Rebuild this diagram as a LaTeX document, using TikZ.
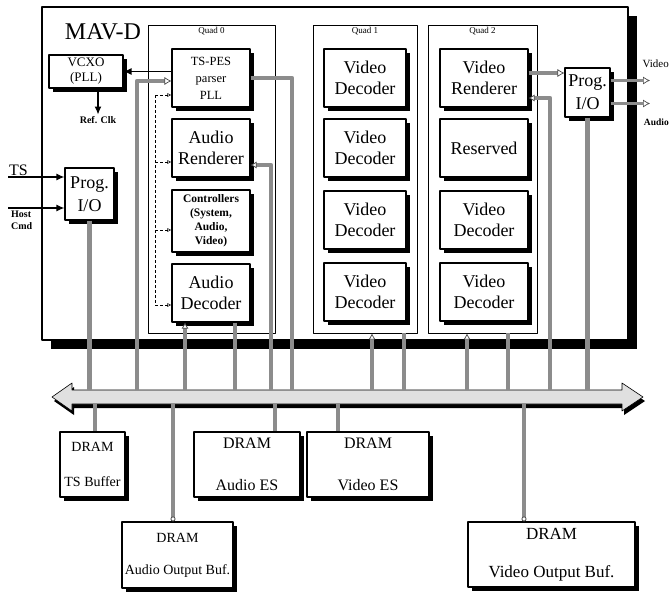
\documentclass[tikz,border=0pt]{standalone}
\usepackage{fontspec}
\setmainfont{Liberation Serif}
\usetikzlibrary{arrows.meta,shadows}
\newcommand{\fsbig}{\fontsize{18}{21}\selectfont}
\newcommand{\fssmall}{\fontsize{10}{12}\selectfont}

\tikzset{
  unit/.style={draw,line width=1.1pt,fill=white,align=center,inner sep=1pt,font=\fsbig,
    drop shadow={fill=black,opacity=1,shadow xshift=4pt,shadow yshift=-4pt}},
  quad/.style={draw,line width=0.9pt},
  busline/.style={draw=black!45,line width=4.5pt},
  ctlline/.style={densely dashed,line width=0.6pt},
  ctltip/.style={-{Latex[open,length=4pt,width=4pt,line width=0.5pt]}},
  feedtip/.style={-{Latex[length=7pt,width=8pt,line width=0.7pt,color=black!70,fill=white]}},
  feedtail/.style={{Latex[length=6pt,width=7pt,line width=0.7pt,color=black!70,fill=white]}-},
  ringtip/.style={-{Circle[length=5pt,line width=0.8pt,color=black!70,fill=white]}},
  inarrow/.style={line width=1.3pt,-{Latex[length=8pt,width=7pt]}}
}

\begin{document}
\begin{tikzpicture}[x=1pt,y=-1pt,line join=round]
  \useasboundingbox (0,0) rectangle (671,592);
  % chip outline and quads
  \node[draw,line width=1.5pt,fill=white,minimum width=586pt,minimum height=333pt,inner sep=0pt,
    drop shadow={fill=black,opacity=1,shadow xshift=9pt,shadow yshift=-9pt}] (mavd) at (335,173.5) {};
  \node[font=\fontsize{24}{26}\selectfont] (mavlab) at (103,32) {MAV-D};
  \node[quad,minimum width=127pt,minimum height=308pt] (q0) at (211.5,179) {};
  \node[quad,minimum width=104pt,minimum height=308pt] (q1) at (365,179) {};
  \node[quad,minimum width=109pt,minimum height=308pt] (q2) at (482.5,179) {};
  \foreach \q/\t in {q0/Quad 0,q1/Quad 1,q2/Quad 2}
    \node[below,font=\fontsize{9}{10}\selectfont,inner sep=3pt] (\q lab) at (\q.north) {\t};

  % quad 0
  \node[unit,minimum width=78pt,minimum height=58pt,font=\fontsize{12.5}{17}\selectfont] (tspes) at (211,78) {TS-PES\\parser\\PLL};
  \node[unit,minimum width=78pt,minimum height=58pt] (arend) at (211,148) {Audio\\Renderer};
  \node[unit,minimum width=78pt,minimum height=62pt,font=\fontsize{11.5}{14}\selectfont\bfseries] (ctrl) at (211,221) {Controllers\\(System,\\Audio,\\Video)};
  \node[unit,minimum width=78pt,minimum height=58pt] (adec) at (211,293) {Audio\\Decoder};

  % quad 1
  \foreach \r/\y in {1/78,2/148,3/220,4/292}
    \node[unit,minimum width=82pt,minimum height=58pt] (vd\r) at (365,\y) {Video\\Decoder};

  % quad 2
  \node[unit,minimum width=88pt,minimum height=58pt] (vren) at (484,78) {Video\\Renderer};
  \node[unit,minimum width=88pt,minimum height=58pt] (resv) at (484,148) {Reserved};
  \node[unit,minimum width=88pt,minimum height=58pt] (vd5) at (484,220) {Video\\Decoder};
  \node[unit,minimum width=88pt,minimum height=58pt] (vd6) at (484,292) {Video\\Decoder};

  % clock and I/O blocks
  \node[unit,minimum width=74pt,minimum height=33pt,font=\fontsize{13}{15}\selectfont] (vcxo) at (86,71.5) {VCXO\\(PLL)};
  \node[unit,minimum width=49pt,minimum height=52pt,font=\fontsize{18}{23}\selectfont] (pioL) at (89.5,194) {Prog.\\I/O};
  \node[unit,minimum width=45pt,minimum height=49pt,font=\fontsize{18}{23}\selectfont] (pioR) at (587.5,92.5) {Prog.\\I/O};

  % memory bus
  \coordinate (bustop) at (0,390);
  \coordinate (busbot) at (0,404);
  \fill[black,xshift=2pt,yshift=-4pt] (52,397) -- (72,383) -- (72,390) -- (622,390) -- (622,383) -- (643,397)
    -- (622,411) -- (622,404) -- (72,404) -- (72,411) -- cycle;
  \filldraw[fill=black!12,draw=black,line width=0.6pt] (52,397) -- (72,383) -- (72,390) -- (622,390) -- (622,383) -- (643,397)
    -- (622,411) -- (622,404) -- (72,404) -- (72,411) -- cycle;

  % DRAM buffers
  \node[unit,minimum width=65pt,minimum height=65pt,font=\fontsize{14}{17}\selectfont] (dts) at (92.5,464.5) {DRAM\\[18pt]TS Buffer};
  \node[unit,minimum width=106pt,minimum height=65pt,font=\fontsize{16}{19}\selectfont] (daes) at (247,464.5) {DRAM\\[23pt]Audio ES};
  \node[unit,minimum width=122pt,minimum height=65pt,font=\fontsize{16}{19}\selectfont] (dves) at (368,464.5) {DRAM\\[23pt]Video ES};
  \node[unit,minimum width=111pt,minimum height=66pt,font=\fontsize{14}{17}\selectfont] (daob) at (177.5,555) {DRAM\\[15pt]Audio Output Buf.};
  \node[unit,minimum width=167pt,minimum height=65pt,font=\fontsize{17}{20}\selectfont] (dvob) at (551.5,554.5) {DRAM\\[18pt]Video Output Buf.};

  % chip to bus
  \draw[busline] (pioL.south) -- (pioL.south |- bustop);
  \draw[busline,feedtip] (137,0 |- bustop) |- ([yshift=-3pt]tspes.west);
  \draw[busline] (tspes.east) -| (292,0 |- bustop);
  \draw[busline,feedtail] ([yshift=-17pt]arend.east) -| (271,0 |- bustop);
  \draw[busline,feedtail] (185,0 |- adec.south) -- (185,0 |- bustop);
  \draw[busline] (235,0 |- adec.south) -- (235,0 |- bustop);
  \draw[busline,feedtail] (372,0 |- q1.south) -- (372,0 |- bustop);
  \draw[busline] (404,0 |- q1.south) -- (404,0 |- bustop);
  \draw[busline,feedtail] (467,0 |- q2.south) -- (467,0 |- bustop);
  \draw[busline] (508,0 |- q2.south) -- (508,0 |- bustop);
  \draw[busline,feedtail] ([yshift=-20pt]vren.east) -| (550,0 |- bustop);
  \draw[busline] (pioR.south) -- (pioR.south |- bustop);
  \coordinate (vrout) at ([yshift=5pt]vren.east);
  \draw[busline,feedtip] (vrout) -- (vrout -| pioR.west);

  % bus to DRAM
  \draw[busline] (95,0 |- busbot) -- (95,0 |- dts.north);
  \draw[busline,ringtip] (173,0 |- busbot) -- (173,0 |- daob.north);
  \draw[busline] (275,0 |- busbot) -- (275,0 |- daes.north);
  \draw[busline] (338,0 |- busbot) -- (338,0 |- dves.north);
  \draw[busline,ringtip] (524,0 |- busbot) -- (524,0 |- dvob.north);

  % control fan-out in quad 0
  \coordinate (ctlx) at (155,0);
  \draw[ctlline] (155,95) -- (155,305);
  \foreach \n/\s in {tspes/17,arend/14,ctrl/9,adec/12}{
    \path ([yshift=-\s pt]\n.west) coordinate (tmp);
    \draw[ctlline,ctltip] (ctlx |- tmp) -- (tmp);
  }

  % clock
  \draw[inarrow] (tspes.west |- vcxo.east) -- (vcxo.east);
  \draw[inarrow] ([xshift=12pt]vcxo.south) -- ++(0,26) coordinate (refclk);
  \node[below,font=\fssmall\bfseries,inner sep=2pt] (refclklab) at (refclk) {Ref. Clk};

  % external inputs and outputs
  \coordinate (tsin) at (8,177);
  \coordinate (hostin) at (8,208);
  \draw[inarrow] (tsin) -- (tsin -| pioL.west);
  \draw[inarrow] (hostin) -- (hostin -| pioL.west);
  \node[above right,font=\fontsize{16}{18}\selectfont,inner sep=1pt] (tslab) at (tsin) {TS};
  \node[below right,align=left,font=\fssmall\bfseries,inner sep=3pt] (hostlab) at (hostin) {Host\\Cmd};
  \coordinate (vidout) at ([yshift=12pt]pioR.east);
  \coordinate (audout) at ([yshift=-11pt]pioR.east);
  \draw[busline,line width=3.5pt,feedtip] (vidout) -- (650,0 |- vidout);
  \draw[busline,line width=3.5pt,feedtip] (audout) -- (650,0 |- audout);
  \node[anchor=east,font=\fontsize{11}{13}\selectfont,inner sep=1pt] (vidlab) at (670,64) {Video};
  \node[anchor=east,font=\fontsize{9.5}{11}\selectfont\bfseries,inner sep=1pt] (audlab) at (670,122) {Audio};
\end{tikzpicture}
\end{document}
